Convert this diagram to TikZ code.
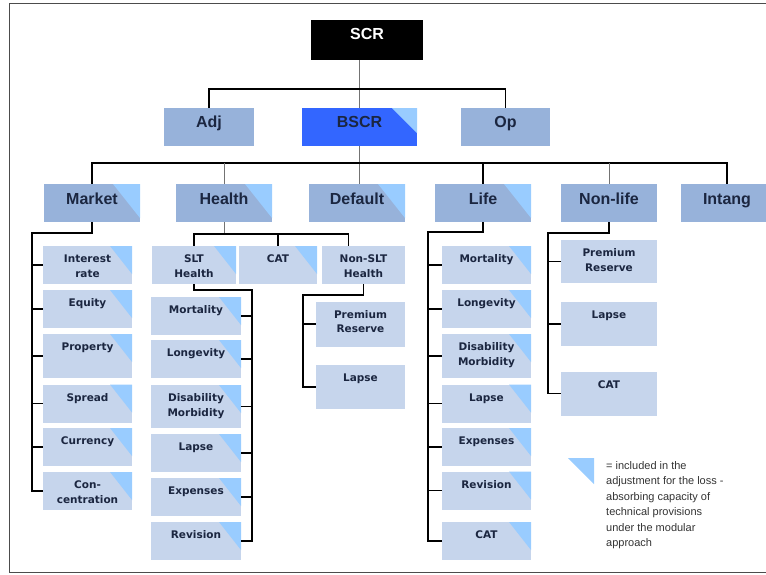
\documentclass[tikz,border=0pt]{standalone}
\usepackage{fontspec}
\setmainfont{Liberation Sans}
\newfontfamily\cellfont{DejaVu Sans}
\usetikzlibrary{positioning}

\definecolor{midblue}{HTML}{97B2DA}
\definecolor{paleblue}{HTML}{C6D5EC}
\definecolor{brightblue}{HTML}{3366FF}
\definecolor{cornerblue}{HTML}{99CCFF}
\definecolor{labelnavy}{HTML}{1B2640}
\definecolor{legendgray}{HTML}{333333}

% text set near the top of a box: width, height, baseline drop, text
\newcommand{\toptext}[4]{\parbox[c][#2][t]{#1}{\centering\rule{0pt}{#3}#4}}

\tikzset{
  lac/.style 2 args={path picture={\fill[cornerblue]
      (path picture bounding box.north east) -- ++(-#1,0pt) -- ++(#1,-#2) -- cycle;}},
  laccut/.style={lac={22pt}{28pt}},
  lacbig/.style={lac={27pt}{34pt}},
  riskbox/.style={rectangle, inner sep=0pt, text=labelnavy},
  mainbox/.style={riskbox, fill=midblue, font=\bfseries\fontsize{16}{19}\selectfont},
  subbox/.style={riskbox, fill=paleblue, font=\cellfont\bfseries\fontsize{10.5}{14.5}\selectfont},
  branch/.style={draw=black, line width=1.6pt},
  trunk/.style={draw=black!55, line width=0.8pt}
}

\begin{document}
\begin{tikzpicture}[x=1pt, y=-1pt]
    \useasboundingbox (0,0) rectangle (766,574);

    % frame:
    \draw[black!70, line width=1pt] (766,3) -- (9,3) -- (9,572.5) -- (766,572.5);

    % top of the tree:
    \node[riskbox, fill=black, text=white, font=\bfseries\fontsize{16}{19}\selectfont] (scr) at (367,40) {\toptext{112pt}{40pt}{19pt}{SCR}};
    \node[mainbox] (adj) at (209,127) {\toptext{90pt}{38pt}{19pt}{Adj}};
    \node[mainbox, fill=brightblue, lac={25pt}{25pt}] (bscr) at (359.5,127) {\toptext{115pt}{38pt}{19pt}{BSCR}};
    \node[mainbox] (op) at (505.5,127) {\toptext{89pt}{38pt}{19pt}{Op}};

    % risk modules:
    \foreach \name/\txt/\x in {market/Market/92, health/Health/224, default/Default/357, life/Life/483}
    \node[mainbox, lacbig] (\name) at (\x,203) {\toptext{96pt}{38pt}{20pt}{\txt}};
    \node[mainbox] (nonlife) at (609,203) {\toptext{96pt}{38pt}{20pt}{Non-life}};
    \node[mainbox] (intang) at (727,203) {\toptext{92pt}{38pt}{20pt}{Intang}};

    % market sub-modules:
    \foreach \txt/\y/\h [count=\i] in {{Interest\\rate}/265/38, Equity/309/38, Property/356/44, Spread/403.5/38, Currency/447/38, {Con-\\centration}/491/38}
    \node[subbox, laccut] (mk\i) at (87.5,\y) {\toptext{89pt}{\h pt}{16.5pt}{\txt}};

    % health sub-modules:
    \node[subbox, laccut] (slt) at (194,265) {\toptext{84pt}{38pt}{16.5pt}{SLT\\Health}};
    \node[subbox, laccut] (cat) at (278,265) {\toptext{78pt}{38pt}{16.5pt}{CAT}};
    \node[subbox] (nslt) at (363.5,265) {\toptext{83pt}{38pt}{16.5pt}{Non-SLT\\Health}};

    \foreach \txt/\y/\h [count=\i] in {Mortality/316/38, Longevity/359/38, {Disability\\Morbidity}/406.5/43, Lapse/453/38, Expenses/497/38, Revision/541/38}
    \node[subbox, laccut] (sl\i) at (196,\y) {\toptext{90pt}{\h pt}{16.5pt}{\txt}};

    \foreach \txt/\y/\h [count=\i] in {{Premium\\Reserve}/324/45, Lapse/387/44}
    \node[subbox] (ns\i) at (360.5,\y) {\toptext{89pt}{\h pt}{16.5pt}{\txt}};

    % life sub-modules:
    \foreach \txt/\y/\h [count=\i] in {Mortality/265/38, Longevity/309/38, {Disability\\Morbidity}/356/44, Lapse/403.5/38, Expenses/447/38, Revision/490.5/38, CAT/541/38}
    \node[subbox, laccut] (lf\i) at (486.5,\y) {\toptext{89pt}{\h pt}{16.5pt}{\txt}};

    % non-life sub-modules:
    \foreach \txt/\y/\h [count=\i] in {{Premium\\Reserve}/261.5/43, Lapse/324/44, CAT/393.5/44}
    \node[subbox] (nl\i) at (609,\y) {\toptext{96pt}{\h pt}{16.5pt}{\txt}};

    % connections, top:
    \coordinate (bar1) at (0,89);
    \coordinate (bar2) at (0,163);
    \draw[trunk] (scr.south -| bscr.north) -- (bscr.north);
    \draw[branch] (adj.north) -- (adj.north |- bar1) -- (op.north |- bar1) -- (op.north);
    \draw[trunk] (bscr.south) -- (bscr.south |- default.north);
    \draw[branch] (market.north) -- (market.north |- bar2) -- (intang.north |- bar2) -- (intang.north);
    \draw[branch] (life.north) -- (life.north |- bar2);
    \foreach \n in {health,nonlife}
    \draw[trunk] (\n.north) -- (\n.north |- bar2);

    % connections, market:
    \coordinate (mkrail) at (32,233);
    \draw[branch] (market.south) |- (mkrail) -- (mkrail |- mk6.west) -- (mk6.west);
    \foreach \i in {1,...,5}
    \draw[branch] (mkrail |- mk\i.west) -- (mk\i.west);

    % connections, health:
    \coordinate (hbar) at (0,234);
    \draw[trunk] (health.south) -- (health.south |- hbar);
    \draw[branch] (slt.north) -- (slt.north |- hbar) -- ([xshift=-15pt]nslt.north |- hbar) -- ([xshift=-15pt]nslt.north);
    \draw[branch] (cat.north) -- (cat.north |- hbar);

    \coordinate (sltrail) at (252,290);
    \draw[branch] (slt.south) |- (sltrail) -- (sltrail |- sl6.east) -- (sl6.east);
    \foreach \i in {1,...,5}
    \draw[branch] (sltrail |- sl\i.east) -- (sl\i.east);

    \coordinate (nsrail) at (303,295);
    \draw[branch] (nslt.south) |- (nsrail) -- (nsrail |- ns2.west) -- (ns2.west);
    \draw[branch] (nsrail |- ns1.west) -- (ns1.west);

    % connections, life:
    \coordinate (lfrail) at (428,232);
    \draw[branch] (life.south) |- (lfrail) -- (lfrail |- lf7.west) -- (lf7.west);
    \foreach \i in {1,...,6}
    \draw[branch] (lfrail |- lf\i.west) -- (lf\i.west);

    % connections, non-life:
    \coordinate (nlrail) at (548,233);
    \draw[branch] (nonlife.south) |- (nlrail) -- (nlrail |- nl3.west) -- (nl3.west);
    \foreach \i in {1,2}
    \draw[branch] (nlrail |- nl\i.west) -- (nl\i.west);

    % legend:
    \fill[cornerblue] (568,458) -- (594,458) -- (594,484) -- cycle;
    \node[anchor=north west, inner sep=0pt, align=left, text=legendgray, font=\fontsize{11}{15.5}\selectfont] (key) at (606,461) {= included in the\\adjustment for the loss -\\absorbing capacity of\\technical provisions\\under the modular\\approach};

\end{tikzpicture}
\end{document}
